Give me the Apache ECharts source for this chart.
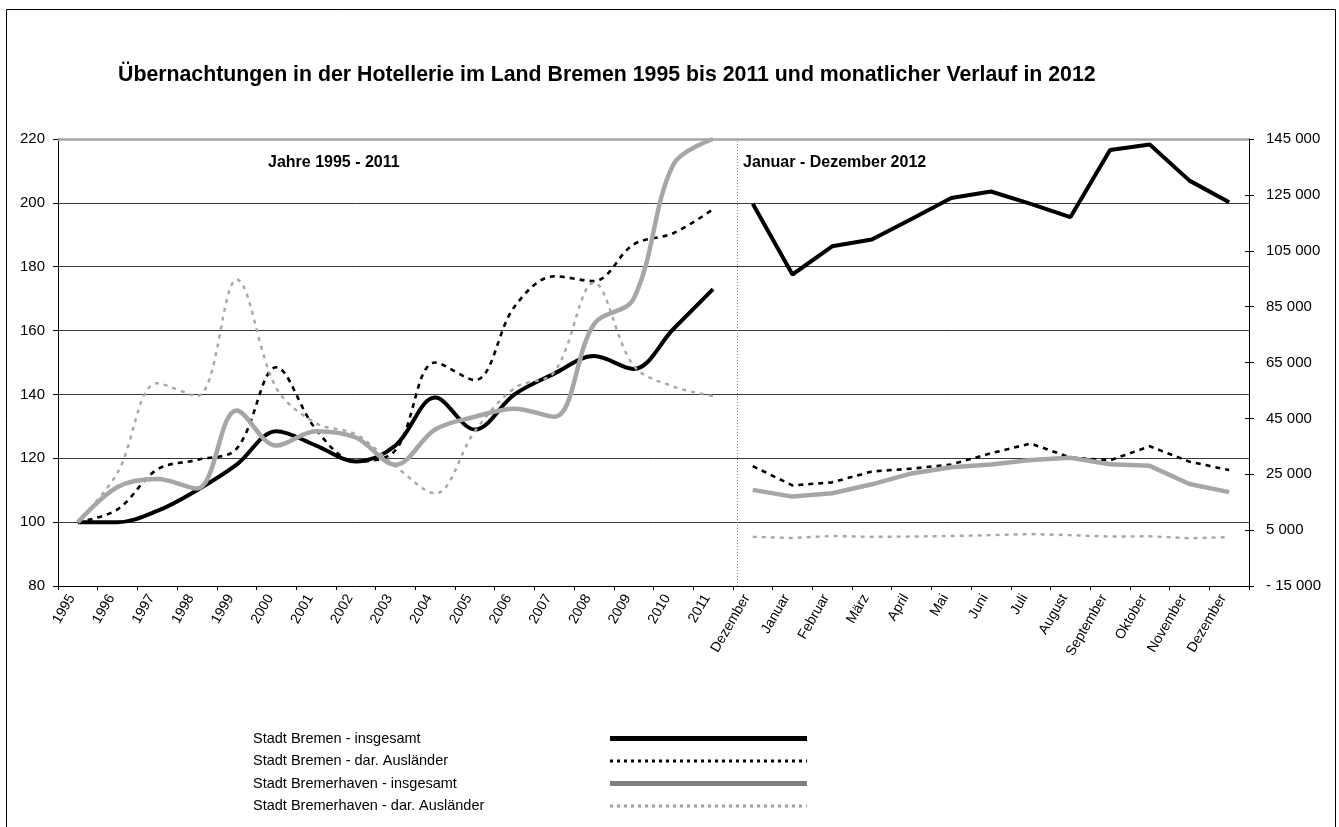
<!DOCTYPE html>
<html>
<head>
<meta charset="utf-8">
<script src="https://cdn.jsdelivr.net/npm/echarts@6/dist/echarts.min.js"></script>
<style>
html,body{margin:0;padding:0;background:#fff;}
#chart{width:1339px;height:827px;}
</style>
</head>
<body>
<div id="chart"></div>
<script>
// ---- Data ----
const categories = ['1995','1996','1997','1998','1999','2000','2001','2002','2003','2004','2005','2006','2007','2008','2009','2010','2011',
  'Dezember','Januar','Februar','März','April','Mai','Juni','Juli','August','September','Oktober','November','Dezember'];

const seriesNames = ['Stadt Bremen - insgesamt','Stadt Bremen - dar. Ausländer','Stadt Bremerhaven - insgesamt','Stadt Bremerhaven - dar. Ausländer'];

// Index 1995 = 100 (left axis), years 1995-2011
const bremenTotalIndex   = [100, 100, 103.5, 110, 118, 128.5, 124, 119, 124, 139, 129, 140, 146.5, 152, 148, 160.5, 173];
const bremenForeignIndex = [100, 104, 116.5, 119.5, 123, 148.5, 129, 119, 122.5, 150, 144.5, 167.5, 177, 175.5, 187, 190.5, 198];
const bhvTotalIndex      = [100, 111, 113.5, 110.5, 135, 124, 128.5, 126.5, 118, 129, 133, 135.5, 133, 162, 170, 212, 220];
const bhvForeignIndex    = [100, 115.5, 143.5, 139.5, 176, 142, 131, 127.5, 117.5, 109, 128.5, 142, 147, 175, 149, 142.5, 139.5];

// Monthly overnight stays (right axis), Dezember 2011 and Januar - Dezember 2012
const bremenTotalMonthly   = [121800, 96500, 106600, 109000, 116400, 123900, 126200, 121800, 117000, 141100, 143000, 130100, 122400];
const bremenForeignMonthly = [27900, 21000, 22100, 26000, 27000, 28500, 32500, 36000, 31000, 30000, 35000, 29500, 26500];
const bhvTotalMonthly      = [19400, 17000, 18200, 21400, 25300, 27500, 28500, 30100, 30900, 28600, 28000, 21500, 18600];
const bhvForeignMonthly    = [2600, 2200, 2900, 2600, 2700, 2900, 3200, 3600, 3200, 2700, 2800, 2100, 2500];

// Axis ranges: [min, max, interval]
const leftAxisRange  = [80, 220, 20];
const rightAxisRange = [-15000, 145000, 20000];

// ---- Helpers ----
const nYears = bremenTotalIndex.length;
const nMonths = bremenTotalMonthly.length;
const padLeft = arr => arr.concat(new Array(nMonths).fill(null));
const padRight = arr => new Array(nYears).fill(null).concat(arr);

const FONT = 'Arial, "Liberation Sans", sans-serif';
const styles = [
  {color:'#000000', width:4,   type:'solid'},
  {color:'#000000', width:2.6, type:[5,5]},
  {color:'#a6a6a6', width:4.5, type:'solid'},
  {color:'#a6a6a6', width:2.4, type:[4,5]}
];
const legendStyles = [
  {color:'#000000', width:5, type:'solid'},
  {color:'#000000', width:3, type:[3,4]},
  {color:'#808080', width:5, type:'solid'},
  {color:'#a0a0a0', width:3, type:[3,4]}
];
const indexData = [bremenTotalIndex, bremenForeignIndex, bhvTotalIndex, bhvForeignIndex];
const monthlyData = [bremenTotalMonthly, bremenForeignMonthly, bhvTotalMonthly, bhvForeignMonthly];

function fmtThousands(v){
  const s = Math.abs(v).toString().replace(/\B(?=(\d{3})+(?!\d))/g, ' ');
  return v < 0 ? '- ' + s : s;
}

const series = [];
seriesNames.forEach((name, i) => {
  series.push({
    name: name, type:'line', xAxisIndex:0, yAxisIndex:0,
    data: padLeft(indexData[i]), smooth:0.35, symbol:'none', connectNulls:false,
    lineStyle: {color: styles[i].color, width: styles[i].width, type: styles[i].type},
    itemStyle: {color: styles[i].color},
    z: 3 + i
  });
});
seriesNames.forEach((name, i) => {
  series.push({
    name: name, type:'line', xAxisIndex:0, yAxisIndex:1,
    data: padRight(monthlyData[i]), smooth:false, symbol:'none', connectNulls:false,
    lineStyle: {color: styles[i].color, width: styles[i].width, type: styles[i].type},
    itemStyle: {color: styles[i].color},
    z: 3 + i
  });
});
// separator and top border line
series.push({
  name:'__helper', type:'line', xAxisIndex:1, yAxisIndex:0, data:[], silent:true,
  markLine:{
    silent:true, symbol:['none','none'], label:{show:false}, animation:false,
    data:[
      {xAxis:17.1, lineStyle:{color:'#8c8c8c', width:1, type:[1,2]}},
      {yAxis:220, lineStyle:{color:'#a6a6a6', width:2.5, type:'solid'}}
    ]
  }
});

const chart = echarts.init(document.getElementById('chart'), null, {renderer:'canvas'});
chart.setOption({
  animation:false,
  backgroundColor:'#ffffff',
  textStyle:{fontFamily:FONT},
  title:[
    {text:'Übernachtungen in der Hotellerie im Land Bremen 1995 bis 2011 und monatlicher Verlauf in 2012',
     left:118, top:65, padding:0, textStyle:{fontFamily:FONT, fontSize:21.3, fontWeight:'bold', color:'#000'}},
    {text:'Jahre 1995 - 2011', left:268, top:155, padding:0,
     textStyle:{fontFamily:FONT, fontSize:16, fontWeight:'bold', color:'#000'}},
    {text:'Januar - Dezember 2012', left:743, top:155, padding:0,
     textStyle:{fontFamily:FONT, fontSize:16, fontWeight:'bold', color:'#000'}}
  ],
  graphic:[
    {type:'rect', silent:true, z:-10, shape:{x:6.5, y:9.5, width:1329, height:900},
     style:{fill:'none', stroke:'#000', lineWidth:1}}
  ],
  grid:{left:58, right:90, top:139, bottom:241, containLabel:false},
  legend:{
    orient:'vertical', left:253, top:731, padding:0, align:'right',
    itemWidth:197, itemHeight:16, itemGap:7.5, selectedMode:false,
    itemStyle:{opacity:0},
    data: seriesNames.map((n, i) => ({
      name:n,
      itemStyle:{opacity:0},
      lineStyle:{color:legendStyles[i].color, width:legendStyles[i].width, type:legendStyles[i].type}
    })),
    formatter: n => '{a|' + n + '}',
    textStyle:{fontFamily:FONT, fontSize:14.5, color:'#000',
      rich:{a:{width:352, fontFamily:FONT, fontSize:14.5, lineHeight:16, color:'#000', align:'left'}}}
  },
  xAxis:[
    {type:'category', data:categories, boundaryGap:true,
     axisLine:{show:true, onZero:false, lineStyle:{color:'#000', width:1}},
     axisTick:{show:true, interval:0, length:4, lineStyle:{color:'#000'}},
     axisLabel:{interval:0, rotate:60, margin:13, verticalAlign:'bottom', fontFamily:FONT, fontSize:14, color:'#000'},
     splitLine:{show:false}},
    {type:'value', min:0, max:categories.length, show:false}
  ],
  yAxis:[
    {type:'value', position:'left', min:leftAxisRange[0], max:leftAxisRange[1], interval:leftAxisRange[2],
     axisLine:{show:true, lineStyle:{color:'#000', width:1}},
     axisTick:{show:true, inside:false, length:5, lineStyle:{color:'#000'}},
     axisLabel:{margin:13, fontFamily:FONT, fontSize:15, color:'#000'},
     splitLine:{show:true, showMinLine:false, showMaxLine:false, lineStyle:{color:'#3a3a3a', width:1}}},
    {type:'value', position:'right', min:rightAxisRange[0], max:rightAxisRange[1], interval:rightAxisRange[2],
     axisLine:{show:true, onZero:false, lineStyle:{color:'#000', width:1}},
     axisTick:{show:true, inside:false, length:5, lineStyle:{color:'#000'}},
     axisLabel:{margin:17, fontFamily:FONT, fontSize:15, color:'#000', formatter:fmtThousands},
     splitLine:{show:false}},
    {type:'value', position:'right', min:rightAxisRange[0], max:rightAxisRange[1], interval:rightAxisRange[2],
     axisLine:{show:false}, axisLabel:{show:false}, splitLine:{show:false},
     axisTick:{show:true, inside:true, length:4, lineStyle:{color:'#000'}}}
  ],
  series: series
});
</script>
</body>
</html>
